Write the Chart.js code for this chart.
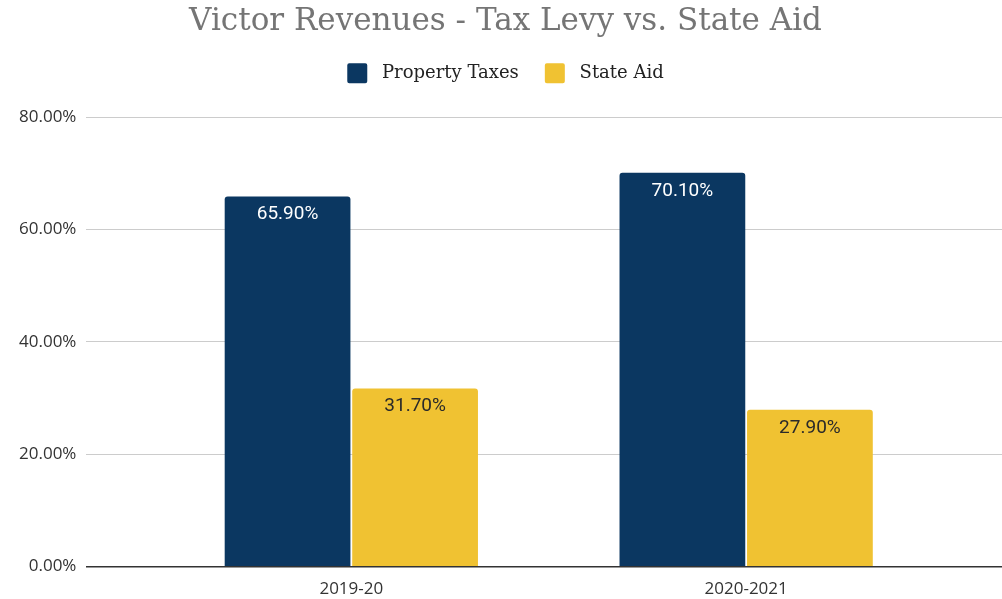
<!DOCTYPE html>
<html>
<head>
<meta charset="utf-8">
<script src="https://cdn.jsdelivr.net/npm/chart.js@4"></script>
<style>
  html, body { margin: 0; padding: 0; background: #fff; }
  #wrap { width: 1002px; height: 599px; position: relative; }
</style>
</head>
<body>
<div id="wrap"><canvas id="c"></canvas></div>
<script>
const categories = ['2019-20', '2020-2021'];
const seriesNames = ['Property Taxes', 'State Aid'];
const propertyTaxes = [65.9, 70.1];
const stateAid = [31.7, 27.9];
const yTicks = [0, 20, 40, 60, 80];

const BLUE = '#0b3761';
const YELLOW = '#f0c232';

const valueLabels = {
  id: 'valueLabels',
  afterDatasetsDraw(chart) {
    const ctx = chart.ctx;
    ctx.save();
    ctx.font = '19px Roboto';
    ctx.textAlign = 'center';
    ctx.textBaseline = 'middle';
    chart.data.datasets.forEach((ds, di) => {
      const meta = chart.getDatasetMeta(di);
      meta.data.forEach((el, i) => {
        ctx.fillStyle = di === 0 ? '#ffffff' : '#2a2a2a';
        ctx.fillText(ds.data[i].y.toFixed(2) + '%', el.x, el.y + 18);
      });
    });
    ctx.restore();
  }
};

const legendSpacer = {
  id: 'legendSpacer',
  beforeInit(chart) {
    const lg = chart.legend;
    if (!lg) return;
    const orig = lg.fit;
    lg.fit = function () { orig.call(this); this.height += 24; };
  }
};

const toPoints = arr => arr.map((v, i) => ({ x: i + 1, y: v }));

new Chart(document.getElementById('c'), {
  type: 'bar',
  data: {
    datasets: [
      { label: seriesNames[0], data: toPoints(propertyTaxes), backgroundColor: BLUE,
        borderRadius: { topLeft: 3, topRight: 3 }, borderSkipped: 'bottom' },
      { label: seriesNames[1], data: toPoints(stateAid), backgroundColor: YELLOW,
        borderRadius: { topLeft: 3, topRight: 3 }, borderSkipped: 'bottom' }
    ]
  },
  options: {
    responsive: true,
    maintainAspectRatio: false,
    animation: false,
    categoryPercentage: 0.646,
    barPercentage: 0.986,
    layout: { padding: { left: 9, right: 0, top: 0, bottom: -12 } },
    plugins: {
      tooltip: { enabled: false },
      title: {
        display: true,
        text: 'Victor Revenues - Tax Levy vs. State Aid',
        color: '#757575',
        font: { family: 'DejaVu Serif', size: 31, weight: 'normal' },
        padding: { top: 3, bottom: -3 }
      },
      legend: {
        display: true,
        labels: {
          color: '#222',
          font: { family: 'DejaVu Serif', size: 18 },
          boxWidth: 20,
          boxHeight: 20,
          useBorderRadius: true,
          borderRadius: 2,
          padding: 26,
          generateLabels: chart => Chart.defaults.plugins.legend.labels.generateLabels(chart)
            .map(item => Object.assign(item, { text: ' ' + item.text }))
        }
      }
    },
    scales: {
      x: {
        type: 'linear',
        offset: false,
        min: 0.329,
        max: 2.648,
        grid: { display: false, drawTicks: false, offset: false },
        border: { display: true, color: '#333', width: 1.5 },
        afterBuildTicks: scale => { scale.ticks = categories.map((c, i) => ({ value: i + 1 })); },
        ticks: {
          autoSkip: false,
          maxRotation: 0,
          padding: 12,
          color: '#333',
          font: { family: 'Open Sans', size: 17 },
          callback: v => categories[v - 1]
        }
      },
      y: {
        min: 0,
        max: 80,
        afterBuildTicks: scale => { scale.ticks = yTicks.map(v => ({ value: v })); },
        grid: { color: '#cccccc', lineWidth: 1, drawTicks: false },
        border: { display: false },
        ticks: {
          padding: 10,
          color: '#333',
          font: { family: 'Open Sans', size: 17 },
          callback: v => v.toFixed(2) + '%'
        }
      }
    }
  },
  plugins: [valueLabels, legendSpacer]
});
</script>
</body>
</html>
